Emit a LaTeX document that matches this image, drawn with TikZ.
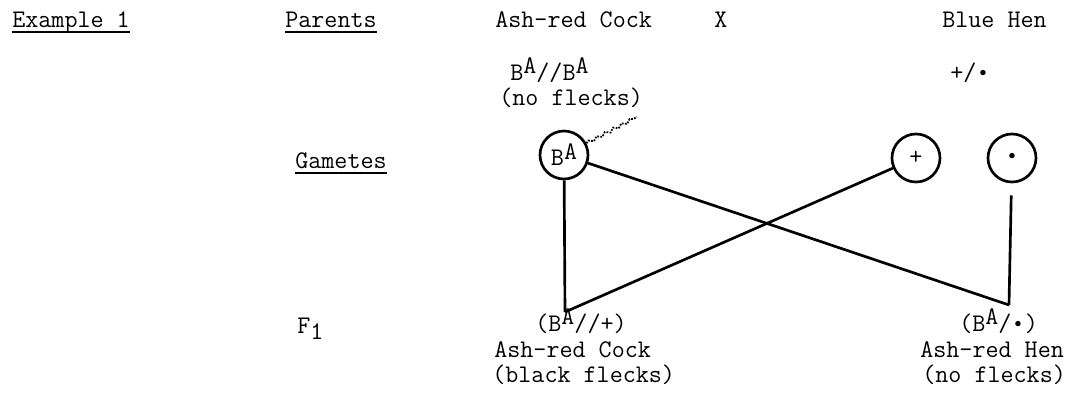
\documentclass[tikz,border=0pt]{standalone}
\usepackage{fontspec}
\usepackage{tikz}
\usetikzlibrary{decorations.pathmorphing}
\tikzset{every picture/.style={line width=2pt}}

% allele with raised letter, typewriter fashion
\newcommand{\BA}{B\raisebox{0.55ex}{A}}
% the dot allele, one typewriter cell wide
\newcommand{\mdot}{\makebox[0.525em]{\raisebox{0.12em}{\scalebox{0.6}{$\bullet$}}}}
% heavy underline at a fixed depth below the baseline
\newcommand{\uline}[1]{\setbox0\hbox{#1}\rlap{\rule[-4.5pt]{\wd0}{1.4pt}}\box0}

\begin{document}
\begin{tikzpicture}[x=0.75pt,y=0.75pt,yscale=-1,xscale=1,
    every node/.style={inner sep=0.75pt,font=\fontsize{19}{23}\selectfont\ttfamily\addfontfeatures{FakeBold=0.7}},
    gamete/.style={draw,circle,minimum size=36pt,inner sep=0pt},
    tagline/.style={densely dotted,line width=1.3pt,decorate,decoration={snake,amplitude=1.2pt,segment length=7pt}}]
    \useasboundingbox (0,0) rectangle (1076,393);

    % Row labels
    \node (example) [anchor=base west] at (10,27) {\uline{Example 1}};
    \node (parents) [anchor=base west] at (283,27) {\uline{Parents}};
    \node (gametes) [anchor=base west] at (293,168) {\uline{Gametes}};
    \node (fone) [anchor=base west] at (295,333) {F\raisebox{-0.6ex}{1}};

    % Parents
    \node (cockP) [anchor=base west] at (493,27) {Ash-red Cock};
    \node (cross) [anchor=base west] at (712,27) {X};
    \node (henP) [anchor=base west] at (940,27) {Blue Hen};
    \node (cockGeno) [anchor=base west] at (508,80) {\BA//\BA};
    \node (cockNote) [anchor=base west] at (497,105) {(no flecks)};
    \node (henGeno) [anchor=base west] at (948,80) {+/\mdot};

    % Gametes
    \node (gBA) [gamete] at (564,155) {\BA};
    \node (gPlus) [gamete] at (916,158) {+};
    \node (gDot) [gamete] at (1012,158) {\mdot};
    \coordinate (tag) at (637,117);
    \draw [tagline] (gBA) -- (tag);

    % F1 offspring
    \node (cockGenoF) [anchor=base west] at (533,331) {(\BA//+)};
    \node (cockF) [anchor=base west] at (492,357) {Ash-red Cock};
    \node (cockNoteF) [anchor=base west] at (490,382) {(black flecks)};
    \node (henGenoF) [anchor=base west] at (957,331) {(\BA/\mdot)};
    \node (henF) [anchor=base west] at (918,357) {Ash-red Hen};
    \node (henNoteF) [anchor=base west] at (920,382) {(no flecks)};
    \coordinate (cockTop) at (565,312);
    \coordinate (henTop) at (1009,305);

    % Crosses
    \draw (gBA) -- (cockTop);
    \draw (gBA) -- (henTop);
    \draw (gPlus) -- (cockTop);
    \draw [shorten <=9pt] (gDot) -- (henTop);
\end{tikzpicture}
\end{document}
